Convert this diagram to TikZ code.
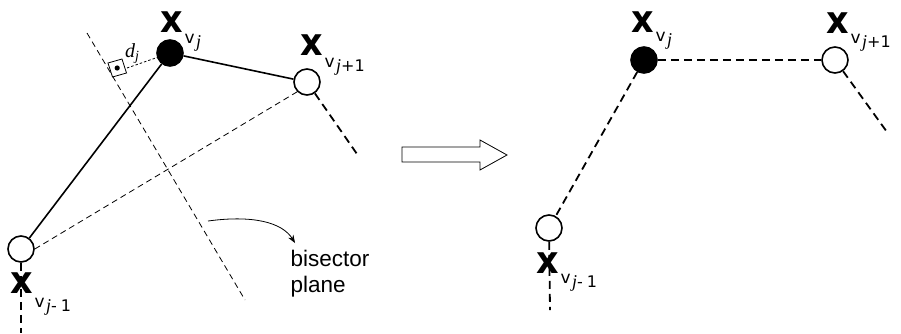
\documentclass[tikz,border=0pt]{standalone}
\usepackage{fontspec}
\setmainfont{Liberation Sans}
\newfontfamily\sansf{DejaVu Sans}
\newfontfamily\seriff{Liberation Serif}
\usetikzlibrary{arrows.meta}

% vertex label: bold x with subscript v and its index
\newcommand{\vlabel}[2][10pt]{%
  {\sansf\bfseries\fontsize{38}{38}\selectfont\scalebox{0.92}[1]{x}}\kern2pt%
  \lower#1\hbox{\sansf\fontsize{17}{17}\selectfont v\kern1.5pt\lower4pt\hbox{#2}}}
\newcommand{\jidx}{{\seriff\itshape\fontsize{18}{18}\selectfont j}}
\newcommand{\plusone}{{\sansf\fontsize{16}{16}\selectfont +1}}
\newcommand{\minusone}{{\sansf\fontsize{16}{16}\selectfont -\kern4pt 1}}

\tikzset{
  vertex/.style={circle, draw, line width=1.6pt, minimum size=26pt, inner sep=0pt, fill=white},
  activevertex/.style={vertex, fill=black},
  lab/.style={anchor=base west, inner sep=0pt, outer sep=0pt},
  edge/.style={line width=1.6pt},
  thickdash/.style={line width=1.8pt, dash pattern=on 8pt off 5pt},
  thindash/.style={line width=0.8pt, dash pattern=on 6pt off 4pt},
  dotline/.style={line width=0.8pt, dash pattern=on 2.5pt off 2pt},
}

\begin{document}
\begin{tikzpicture}[x=1pt, y=-1pt]
\useasboundingbox (0,0) rectangle (901,333);

% ---------- left configuration ----------
\coordinate (bisA) at (87,33);
\coordinate (bisB) at (245,300);
\coordinate (lbot) at (21,333);
\coordinate (ltail) at (357,154);
\coordinate (foot) at (127,68);

% perpendicular bisector plane
\draw[thindash] (bisA) -- (bisB);

\node[vertex] (lm) at (21,249) {};
\node[vertex] (lp) at (307,82) {};

\draw[thickdash] (lm) -- (lbot);
\draw[thickdash] (lp) -- (ltail);
\draw[thindash] (lm.east) -- (lp.225);

\node[activevertex] (lj) at (170,53) {};
\draw[edge] (lm) -- (lj);
\draw[edge] (lj) -- (lp);

% distance d_j with right-angle marker
\draw[dotline] (foot) -- (lj);
\draw[line width=0.8pt] (108,63) -- (122,59) -- (126.5,73) -- (112.5,77) -- cycle;
\fill (117.2,68) circle (2.6pt);
\node[lab] (dj) at (125,57) {{\seriff\itshape\fontsize{20}{20}\selectfont d}\lower3.5pt\hbox{\seriff\itshape\fontsize{14}{14}\selectfont j}};

\node[lab] (ljl) at (160,32) {\vlabel[11pt]{\jidx}};
\node[lab] (lpl) at (300,55) {\vlabel[12pt]{\jidx\plusone}};
\node[lab] (lml) at (10,293) {\vlabel[14pt]{\jidx\minusone}};

% annotation
\coordinate (cs) at (208,221);
\coordinate (ce) at (295,243);
\draw[line width=0.8pt, -{Stealth[length=8pt, width=6pt]}] (cs) .. controls (252,215) and (282,222) .. (ce);
\node[lab, font=\fontsize{22.5}{26}\selectfont] (bis) at (290.5,266) {bisector};
\node[lab, font=\fontsize{22.5}{26}\selectfont] (pla) at (290.5,292) {plane};

% ---------- transition arrow ----------
\draw[line width=0.8pt] (402,147) -- (480,147) -- (480,140) -- (507,155) -- (480,170) -- (480,162) -- (402,162) -- cycle;

% ---------- right configuration ----------
\coordinate (rbot) at (550,310);
\coordinate (rtail) at (887,132);

\node[vertex] (rm) at (549,228) {};
\node[activevertex] (rj) at (644,60) {};
\node[vertex] (rp) at (835,60) {};

\draw[thickdash] (rm) -- (rbot);
\draw[thickdash] (rj) -- (rm);
\draw[thickdash] (rj) -- (rp);
\draw[thickdash] (rp) -- (rtail);

\node[lab] (rjl) at (631,32) {\vlabel[9pt]{\jidx}};
\node[lab] (rpl) at (826,33) {\vlabel[10pt]{\jidx\plusone}};
\node[lab] (rml) at (536,273) {\vlabel[10pt]{\jidx\minusone}};
\end{tikzpicture}
\end{document}
